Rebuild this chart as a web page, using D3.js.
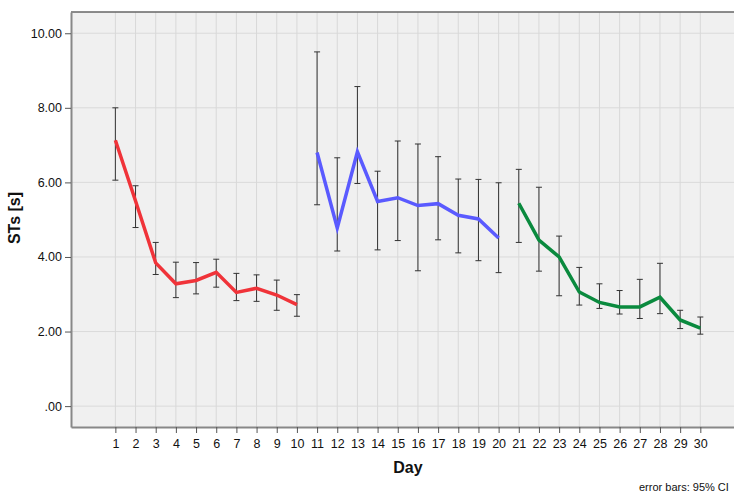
<!DOCTYPE html>
<html>
<head>
<meta charset="utf-8">
<script src="https://cdn.jsdelivr.net/npm/d3@7"></script>
<style>
  body { margin: 0; background: #fff; }
  text { font-family: "Liberation Sans", Arial, sans-serif; }
</style>
</head>
<body>
<script>
// days and per-phase values (mean, upper and lower 95% CI)
var days = d3.range(1, 31);
var yTicks = [0, 2, 4, 6, 8, 10];
var phaseColors = ["#f03339", "#5a5aff", "#0a8a3e"];

var meanVals = [7.13, 5.5, 3.84, 3.28, 3.37, 3.59, 3.05, 3.16, 2.98, 2.72,
                6.80, 4.78, 6.82, 5.49, 5.59, 5.38, 5.43, 5.12, 5.02, 4.51,
                5.44, 4.45, 4.00, 3.06, 2.78, 2.66, 2.66, 2.92, 2.31, 2.09];
var upperVals = [8.0, 5.91, 4.39, 3.86, 3.85, 3.94, 3.56, 3.52, 3.38, 2.99,
                 9.50, 6.66, 8.57, 6.30, 7.11, 7.03, 6.69, 6.09, 6.08, 5.99,
                 6.35, 5.87, 4.56, 3.72, 3.28, 3.10, 3.40, 3.83, 2.57, 2.39];
var lowerVals = [6.06, 4.79, 3.53, 2.91, 3.01, 3.19, 2.83, 2.81, 2.57, 2.41,
                 5.40, 4.16, 5.97, 4.19, 4.44, 3.63, 4.46, 4.11, 3.90, 3.58,
                 4.39, 3.62, 2.96, 2.71, 2.62, 2.47, 2.35, 2.48, 2.08, 1.93];

var w = 734, h = 494;
var margin = {top: 12, right: 0, bottom: 67, left: 71};
var innerW = w - margin.left - margin.right,
    innerH = h - margin.top - margin.bottom;

var data = days.map(function (d, i) {
  return {day: d, mean: meanVals[i], hi: upperVals[i], lo: lowerVals[i], phase: Math.floor(i / 10)};
});

var x = d3.scaleLinear().domain([-1.2, 31.67]).range([0, innerW]);
var y = d3.scaleLinear().domain([-0.56, 10.57]).range([innerH, 0]);

var svg = d3.select("body").append("svg")
    .attr("width", w)
    .attr("height", h);

var g = svg.append("g")
    .attr("transform", "translate(" + [margin.left, margin.top] + ")");

g.append("rect")
    .attr("width", innerW)
    .attr("height", innerH)
    .style("fill", "#f0f0f0");

// grid
g.selectAll(".hgrid").data(yTicks).enter().append("line")
    .attr("x1", 0).attr("x2", innerW)
    .attr("y1", function (d) { return y(d); })
    .attr("y2", function (d) { return y(d); })
    .style("stroke", "#dadada").style("stroke-width", 1);

g.selectAll(".vgrid").data(days).enter().append("line")
    .attr("x1", function (d) { return x(d); })
    .attr("x2", function (d) { return x(d); })
    .attr("y1", 0).attr("y2", innerH)
    .style("stroke", "#d8d8d8").style("stroke-width", 1);

// top border
g.append("line")
    .attr("x1", 0).attr("x2", innerW).attr("y1", 0).attr("y2", 0)
    .style("stroke", "#666").style("stroke-width", 1.5);

// axes
var xAxis = g.append("g")
    .attr("transform", "translate(0," + innerH + ")")
    .call(d3.axisBottom(x).tickValues(days).tickSize(6).tickSizeOuter(0));
var yAxis = g.append("g")
    .call(d3.axisLeft(y).tickValues(yTicks).tickSize(6).tickSizeOuter(0)
      .tickFormat(function (d) { return d === 0 ? ".00" : d3.format(".2f")(d); }));

[xAxis, yAxis].forEach(function (a) {
  a.select(".domain").style("stroke", "#888").style("stroke-width", 2);
  a.selectAll(".tick line").style("stroke", "#555");
  a.selectAll("text").style("font-size", "12.5px").style("fill", "#111")
    .style("font-family", "'Liberation Sans', Arial, sans-serif");
});
xAxis.selectAll("text").attr("dy", "0.95em");

// error bars
var eb = g.selectAll(".eb").data(data).enter().append("g")
    .style("stroke", "#333").style("stroke-width", 1);
eb.append("line")
    .attr("x1", function (d) { return x(d.day); })
    .attr("x2", function (d) { return x(d.day); })
    .attr("y1", function (d) { return y(d.hi); })
    .attr("y2", function (d) { return y(d.lo); });
eb.append("line")
    .attr("x1", function (d) { return x(d.day) - 3; })
    .attr("x2", function (d) { return x(d.day) + 3; })
    .attr("y1", function (d) { return y(d.hi); })
    .attr("y2", function (d) { return y(d.hi); });
eb.append("line")
    .attr("x1", function (d) { return x(d.day) - 3; })
    .attr("x2", function (d) { return x(d.day) + 3; })
    .attr("y1", function (d) { return y(d.lo); })
    .attr("y2", function (d) { return y(d.lo); });

// lines per phase
var line = d3.line()
    .x(function (d) { return x(d.day); })
    .y(function (d) { return y(d.mean); });

[0, 1, 2].forEach(function (p) {
  g.append("path")
      .datum(data.filter(function (d) { return d.phase === p; }))
      .attr("d", line)
      .style("fill", "none")
      .style("stroke", phaseColors[p])
      .style("stroke-width", 3.5)
      .style("stroke-linejoin", "miter");
});

// labels
svg.append("text")
    .attr("x", 408).attr("y", 473)
    .attr("text-anchor", "middle")
    .style("font-size", "16px").style("font-weight", "bold").style("fill", "#111")
    .text("Day");

svg.append("text")
    .attr("transform", "translate(20,218) rotate(-90)")
    .attr("text-anchor", "middle")
    .style("font-size", "16px").style("font-weight", "bold").style("fill", "#111")
    .text("STs [s]");

svg.append("text")
    .attr("x", 639).attr("y", 491)
    .style("font-size", "11px").style("fill", "#111")
    .text("error bars: 95% CI");
</script>
</body>
</html>
